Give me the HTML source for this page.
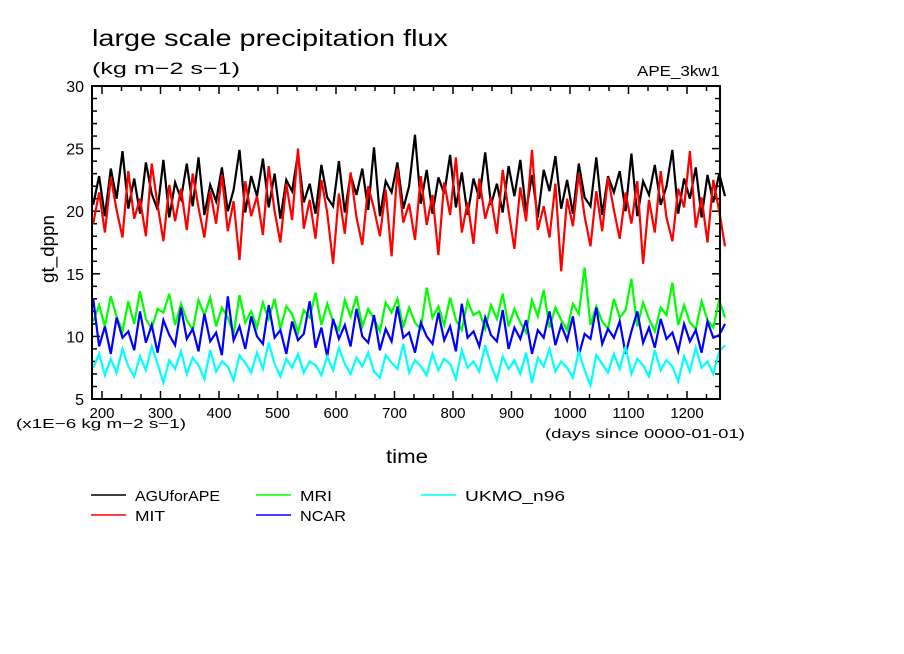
<!DOCTYPE html>
<html><head><meta charset="utf-8"><style>
body{margin:0;background:#fff;}
svg{display:block;font-family:"Liberation Sans",sans-serif;}
</style></head><body>
<svg id="chart" width="904" height="654" viewBox="0 0 904 654">
<rect width="904" height="654" fill="#fff"/>
<text x="92" y="46" font-size="23" textLength="356" lengthAdjust="spacingAndGlyphs">large scale precipitation flux</text>
<text x="92" y="74" font-size="17" textLength="148" lengthAdjust="spacingAndGlyphs">(kg m−2 s−1)</text>
<text x="637" y="76" font-size="15" textLength="83" lengthAdjust="spacingAndGlyphs">APE_3kw1</text>
<text transform="translate(54,249) rotate(-90)" font-size="18" text-anchor="middle" textLength="68" lengthAdjust="spacingAndGlyphs">gt_dppn</text>
<text x="386" y="463" font-size="19" textLength="42" lengthAdjust="spacingAndGlyphs">time</text>
<text x="16" y="428" font-size="13" textLength="170" lengthAdjust="spacingAndGlyphs">(x1E−6 kg m−2 s−1)</text>
<text x="545" y="438" font-size="13" textLength="200" lengthAdjust="spacingAndGlyphs">(days since 0000-01-01)</text>
<g id="ticks"></g>
<g id="series"></g>
<rect x="92" y="86" width="628" height="313" fill="none" stroke="#000" stroke-width="2"/>
<g id="legend"></g>
</svg>
<script>
const yTicks=[5,10,15,20,25,30];
const xTicks=[200,300,400,500,600,700,800,900,1000,1100,1200];
const seriesNames=["AGUforAPE","MIT","MRI","NCAR","UKMO_n96"];
const seriesColors=["#000000","#ff0000","#00ff00","#0000ff","#00ffff"];
const dayStart=185, dayEnd=1265;
const agu=[20.5,22.8,19.6,23.4,21.0,24.8,20.2,22.6,19.8,23.9,21.4,20.1,24.1,19.5,22.3,21.0,23.8,20.4,24.3,19.7,22.1,20.8,23.5,20.0,21.7,24.9,19.9,22.8,21.2,24.2,20.3,23.0,19.4,22.5,21.6,24.6,20.7,22.2,19.8,23.7,21.1,20.4,24.0,19.9,22.9,21.3,23.4,20.1,25.1,19.6,22.4,21.5,23.9,20.2,22.0,26.1,20.6,23.3,19.8,22.7,21.4,24.5,20.3,23.1,19.7,22.6,21.0,24.7,20.5,22.2,19.9,23.6,21.2,24.1,20.0,22.9,19.5,23.3,21.6,24.4,20.2,22.5,19.8,23.8,21.1,20.4,24.3,19.7,22.8,21.5,23.2,20.0,24.6,19.6,22.4,21.3,23.7,20.5,22.0,24.9,19.8,22.6,21.0,23.5,19.5,22.9,20.7,23.0,21.2];
const mit=[19.0,21.5,18.3,22.7,20.1,17.9,23.2,19.4,21.0,18.0,23.8,20.5,17.6,22.1,19.2,21.8,18.5,23.0,20.3,17.9,21.6,19.0,22.9,18.4,20.8,16.1,22.4,19.6,21.2,18.1,23.6,20.0,17.5,22.2,19.3,25.0,18.6,20.9,17.8,22.5,19.9,15.8,21.4,18.2,23.1,19.5,17.3,22.0,20.2,18.0,21.7,16.4,23.4,19.1,20.6,17.7,22.8,18.9,21.3,16.5,22.3,19.7,24.3,18.3,20.7,17.4,22.6,19.4,21.1,18.2,23.3,20.0,17.0,21.9,19.2,24.9,18.5,20.4,17.9,22.2,15.2,21.0,18.8,23.0,19.6,17.2,21.6,18.4,22.7,20.1,17.8,21.5,19.0,22.4,15.8,20.9,18.3,23.2,19.5,17.6,21.8,20.3,24.8,18.7,21.1,17.5,22.5,20.0,17.2];
const mri=[11.2,12.5,10.8,13.2,11.6,10.4,12.8,11.0,13.6,11.4,10.6,12.2,11.9,13.4,10.9,12.6,11.3,10.5,12.9,11.7,13.1,10.8,12.3,11.5,10.2,13.3,11.1,12.0,10.7,12.7,11.4,13.0,10.6,12.4,11.8,10.3,12.1,11.5,13.5,10.9,12.6,11.2,10.5,12.9,11.6,13.2,10.8,12.2,11.4,10.4,12.7,11.9,13.0,10.7,12.3,11.1,10.6,13.9,11.5,12.4,10.9,13.1,11.3,10.5,12.8,11.7,12.0,10.6,12.5,11.4,13.4,10.8,12.2,11.1,10.3,12.9,11.6,13.7,10.7,12.3,11.3,10.5,12.6,11.8,15.5,10.9,12.4,11.2,10.6,13.0,11.5,12.1,14.6,10.8,12.7,11.4,10.4,12.3,11.7,14.3,10.9,12.5,11.1,10.6,12.8,11.3,10.7,12.9,11.5];
const ncar=[13.0,9.2,10.8,8.6,11.5,9.9,10.4,8.9,12.0,9.5,10.9,8.7,11.3,10.1,9.3,12.3,9.8,10.6,8.8,11.8,9.6,10.3,8.5,13.2,9.7,10.8,9.0,11.6,10.0,9.4,12.5,9.9,10.5,8.6,11.2,9.7,10.2,12.8,9.1,10.7,8.4,11.4,9.8,10.9,9.2,12.2,10.0,9.5,11.7,8.9,10.6,9.6,12.4,9.9,10.3,8.7,11.1,10.0,9.4,11.9,9.7,10.8,8.8,12.6,9.9,10.4,9.2,11.5,10.1,9.6,12.1,9.0,10.7,9.8,11.3,8.6,10.5,9.9,12.0,9.3,10.9,9.7,11.6,8.5,10.2,9.8,12.3,9.4,10.6,9.9,11.2,8.6,10.4,12.0,9.5,10.7,9.1,11.4,9.8,10.3,8.8,11.0,9.6,10.5,8.7,11.2,9.9,10.1,11.0];
const ukmo=[7.5,8.6,6.9,8.2,7.1,9.0,7.6,6.8,8.4,7.3,9.2,7.8,6.3,8.1,7.4,8.8,7.0,8.3,7.7,6.6,8.9,7.2,8.0,7.6,6.5,8.5,7.9,7.1,8.7,7.4,9.5,7.8,6.8,8.2,7.5,8.6,7.1,8.0,7.7,6.9,8.4,7.3,9.1,7.8,7.0,8.3,7.6,8.7,7.2,6.7,8.5,7.9,7.4,9.4,7.1,8.1,7.6,6.9,8.6,7.3,8.2,7.8,6.6,8.9,7.5,8.0,7.2,9.3,7.7,6.5,8.4,7.4,8.1,7.0,8.7,6.3,8.3,7.6,9.0,7.2,8.0,7.5,6.7,8.8,7.3,6.1,8.5,7.8,7.1,8.6,7.4,9.2,7.0,8.2,7.7,6.8,8.9,7.3,8.1,7.6,6.4,8.4,7.2,9.1,7.5,8.0,7.0,8.8,9.3];
const allSeries=[agu,mit,mri,ncar,ukmo];

const NS="http://www.w3.org/2000/svg";
const L=92,R=720,T=86,B=399;
function xS(d){return 102+(d-200)*0.585;}
function yS(v){return B-(v-5)*(B-T)/25;}
function mk(tag,attrs,parent){const e=document.createElementNS(NS,tag);for(const k in attrs)e.setAttribute(k,attrs[k]);parent.appendChild(e);return e;}

const tg=document.getElementById('ticks');
for(let v=5;v<=30;v++){
  const major=yTicks.includes(v);const len=major?8:5;const y=yS(v);
  const t1=mk('line',{x1:L,x2:L+len,y1:y,y2:y,stroke:'#000','stroke-width':1.5},tg);
  
  
  const t2=mk('line',{x1:R-len,x2:R,y1:y,y2:y,stroke:'#000','stroke-width':1.5},tg);
  
  
}
yTicks.forEach(v=>{
  const t=mk('text',{x:84,y:yS(v)+6,'font-size':16,'text-anchor':'end'},tg);t.textContent=v;
  
  
});
for(let i=-1;i<33;i++){
  const d=200+i*100/3;const x=xS(d);if(x<L||x>R)continue;
  const major=i%3===0;const len=major?8:5;
  const t1=mk('line',{x1:x,x2:x,y1:B,y2:B-len,stroke:'#000','stroke-width':1.5},tg);
  
  
  const t2=mk('line',{x1:x,x2:x,y1:T,y2:T+len,stroke:'#000','stroke-width':1.5},tg);
  
  
}
xTicks.forEach(d=>{
  const t=mk('text',{x:xS(d),y:418,'font-size':15,'text-anchor':'middle'},tg);t.textContent=d;
  
  
});

const sg=document.getElementById('series');
allSeries.forEach((arr,si)=>{
  const n=arr.length;const step=(dayEnd-dayStart)/(n-1);
  const pts=arr.map((v,i)=>xS(dayStart+i*step).toFixed(1)+','+yS(v).toFixed(1)).join(' ');
  const p=mk('polyline',{points:pts,fill:'none',stroke:seriesColors[si],'stroke-width':2.2,'stroke-linejoin':'miter'},sg);
  
  
});

const lg=document.getElementById('legend');
const pos=[[91,495],[91,515],[256,495],[256,515],[421,495]];
const lw=[85,30,32,46,100];
seriesNames.forEach((nm,i)=>{
  const [x,y]=pos[i];
  const g=mk('g',{},lg);
  
  
  mk('line',{x1:x,x2:x+35,y1:y,y2:y,stroke:seriesColors[i],'stroke-width':1.5},g);
  const t=mk('text',{x:x+44,y:y+6,'font-size':15,textLength:lw[i],lengthAdjust:'spacingAndGlyphs'},g);t.textContent=nm;
});
</script>
</body></html>
